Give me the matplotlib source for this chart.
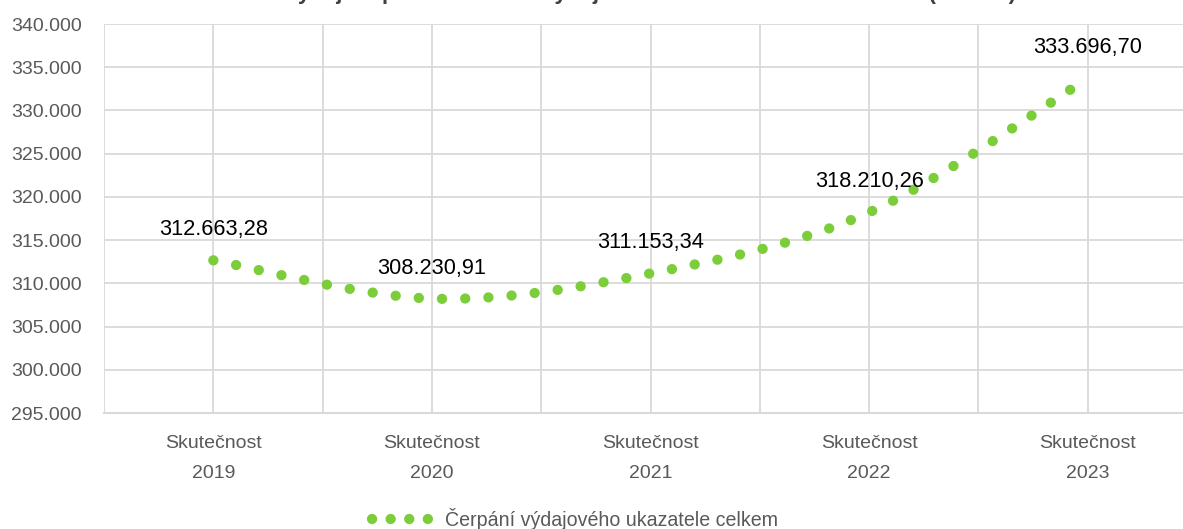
import matplotlib
matplotlib.use("Agg")
import matplotlib.pyplot as plt
from matplotlib import font_manager
from matplotlib.path import Path
from matplotlib.patches import PathPatch
from matplotlib.lines import Line2D
from matplotlib.ticker import FixedLocator, FuncFormatter

categories = ["Skutečnost\n2019", "Skutečnost\n2020", "Skutečnost\n2021", "Skutečnost\n2022", "Skutečnost\n2023"]
values = [312663.28, 308230.91, 311153.34, 318210.26, 333696.70]
value_labels = ["312.663,28", "308.230,91", "311.153,34", "318.210,26", "333.696,70"]
series_name = "Čerpání výdajového ukazatele celkem"
title_text = "Vývoj čerpání ukazatele Výdaje celkem v letech 2019 až 2023 (mil. Kč)"

names = {f.name for f in font_manager.fontManager.ttflist}
FONT = "Liberation Sans Narrow" if "Liberation Sans Narrow" in names else "Liberation Sans"
plt.rcParams["font.family"] = [FONT, "DejaVu Sans"]

GREEN = "#7CCD3A"
GRID = "#D9D9D9"
GRAYTXT = "#595959"

W, H = 1183, 529
fig = plt.figure(figsize=(W / 100, H / 100), dpi=100)
ax = fig.add_axes([104 / W, (H - 413) / H, 1093 / W, 389 / H])

ax.set_xlim(-0.5, 4.5)
ax.set_ylim(295000, 340000)

# smooth (Catmull-Rom -> cubic Bezier) path through the data points
xs = list(range(len(values)))
pts = list(zip(xs, values))
verts = [pts[0]]
codes = [Path.MOVETO]
n = len(pts)
for i in range(n - 1):
    p0 = pts[i - 1] if i > 0 else pts[i]
    p1 = pts[i]
    p2 = pts[i + 1]
    p3 = pts[i + 2] if i + 2 < n else pts[i + 1]
    c1 = (p1[0] + (p2[0] - p0[0]) / 6, p1[1] + (p2[1] - p0[1]) / 6)
    c2 = (p2[0] - (p3[0] - p1[0]) / 6, p2[1] - (p3[1] - p1[1]) / 6)
    verts += [c1, c2, p2]
    codes += [Path.CURVE4] * 3
patch = PathPatch(Path(verts, codes), fill=False, edgecolor=GREEN, lw=7.4,
                  linestyle=(0, (0.01, 2.25)), capstyle="round", zorder=3)
ax.add_patch(patch)

for x, v, lab in zip(xs, values, value_labels):
    ax.annotate(lab, (x, v), xytext=(0, 22), textcoords="offset points",
                ha="center", va="center", fontsize=15.7, color="black", zorder=4)

ax.xaxis.set_major_locator(FixedLocator(xs))
ax.xaxis.set_minor_locator(FixedLocator([i - 0.5 for i in range(n + 1)]))
ax.set_xticks(xs, categories)
ax.set_yticks(range(295000, 340001, 5000))
ax.yaxis.set_major_formatter(FuncFormatter(lambda v, p: f"{int(v):,}".replace(",", ".")))

ax.grid(True, which="both", axis="x", color=GRID, lw=1.3, zorder=0)
ax.grid(True, which="major", axis="y", color=GRID, lw=1.3, zorder=0)
ax.tick_params(axis="both", which="both", length=0)
ax.tick_params(axis="y", labelsize=14, labelcolor=GRAYTXT, pad=16)
ax.tick_params(axis="x", labelsize=14, labelcolor=GRAYTXT, pad=16)
for lbl in ax.get_xticklabels():
    lbl.set_linespacing(2.0)
for s in ["top", "right", "left"]:
    ax.spines[s].set_visible(False)
ax.spines["bottom"].set_color(GRID)
ax.spines["bottom"].set_linewidth(1.5)
ax.set_axisbelow(True)

handle = Line2D([], [], color=GREEN, lw=7.4, linestyle=(0, (0.01, 1.8)),
                dash_capstyle="round")
fig.legend([handle], [series_name], loc="center",
           bbox_to_anchor=(575 / W, 1 - 519 / H), frameon=False,
           fontsize=14.1, labelcolor=GRAYTXT, handlelength=3.0,
           handletextpad=0.7)

fig.text(650 / W, 1 + 1 / H, title_text, ha="center", va="baseline",
         fontsize=16, fontweight="bold", color="#404040",
         family=["Liberation Sans", "DejaVu Sans"])

fig.savefig("out.png", dpi=100)
